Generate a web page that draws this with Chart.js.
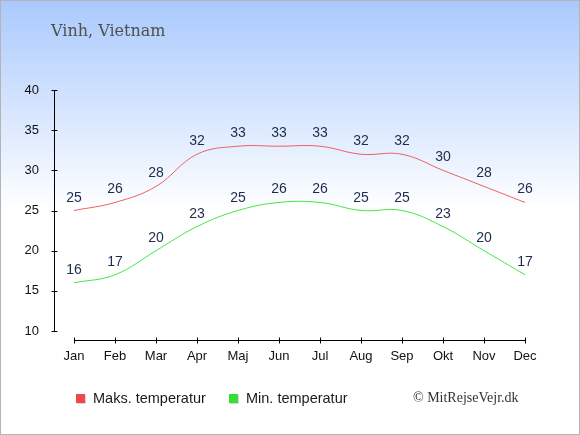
<!DOCTYPE html>
<html>
<head>
<meta charset="utf-8">
<script src="https://cdn.jsdelivr.net/npm/chart.js@4/dist/chart.umd.min.js"></script>
<style>
html,body{margin:0;padding:0;background:#fff;}
#wrap{position:relative;width:580px;height:435px;}
canvas{display:block;}
</style>
</head>
<body>
<div id="wrap"><canvas id="c" width="580" height="435"></canvas></div>
<script>
const months = ['Jan','Feb','Mar','Apr','Maj','Jun','Jul','Aug','Sep','Okt','Nov','Dec'];
const maxTemp = [25,26,28,32,33,33,33,32,32,30,28,26];
const minTemp = [16,17,20,23,25,26,26,25,25,23,20,17];
const yTicks = [10,15,20,25,30,35,40];
const titleText = 'Vinh, Vietnam';
const creditText = '\u00A9 MitRejseVejr.dk';
const seriesNames = ['Maks. temperatur','Min. temperatur'];
const lineColors = ['#f06060','#44e844'];
const boxColors = ['#f04848','#33e033'];

const decor = {
  id:'decor',
  beforeDraw(chart){
    const ctx = chart.ctx;
    ctx.save();
    const g = ctx.createLinearGradient(0,0,0,210);
    g.addColorStop(0,'#a9c9fd');
    g.addColorStop(1,'#ffffff');
    ctx.fillStyle = '#ffffff';
    ctx.fillRect(0,0,580,435);
    ctx.fillStyle = g;
    ctx.fillRect(0,0,580,210);
    ctx.strokeStyle = '#b4b4b4';
    ctx.lineWidth = 1;
    ctx.strokeRect(0.5,0.5,579,434);
    ctx.restore();
  },
  afterDraw(chart){
    const ctx = chart.ctx;
    const xs = chart.scales.x, ys = chart.scales.y;
    ctx.save();
    ctx.strokeStyle = '#000';
    ctx.lineWidth = 1;
    const ax = 54.5;
    ctx.beginPath();
    ctx.moveTo(ax, Math.round(ys.getPixelForValue(40))+0.5);
    ctx.lineTo(ax, Math.round(ys.getPixelForValue(10))+0.5);
    yTicks.forEach(v=>{
      const py = Math.round(ys.getPixelForValue(v))+0.5;
      ctx.moveTo(ax-3, py); ctx.lineTo(ax+3, py);
    });
    const ay = 340.5;
    ctx.moveTo(Math.round(xs.getPixelForValue(0))+0.5, ay);
    ctx.lineTo(Math.round(xs.getPixelForValue(months.length-1))+0.5, ay);
    months.forEach((m,i)=>{
      const px = Math.round(xs.getPixelForValue(i))+0.5;
      ctx.moveTo(px, ay-3); ctx.lineTo(px, ay+3);
    });
    ctx.stroke();
    ctx.fillStyle = '#1d2c4c';
    ctx.font = '14px "Liberation Sans", Arial, sans-serif';
    ctx.textAlign = 'center';
    ctx.textBaseline = 'alphabetic';
    chart.data.datasets.forEach((ds,di)=>{
      const meta = chart.getDatasetMeta(di);
      meta.data.forEach((pt,i)=>{
        ctx.fillText(String(ds.data[i]), pt.x, pt.y - 9);
      });
    });
    ctx.fillStyle = '#505050';
    ctx.font = '16px "DejaVu Serif", serif';
    ctx.textAlign = 'left';
    ctx.textBaseline = 'middle';
    ctx.fillText(titleText, 51, 32);
    ctx.font = '14.5px "Liberation Sans", Arial, sans-serif';
    const legX = [76, 229];
    chart.data.datasets.forEach((ds,di)=>{
      const x = legX[di];
      ctx.fillStyle = 'rgba(0,0,0,0.15)';
      ctx.fillRect(x+1, 395, 9, 9);
      ctx.fillStyle = boxColors[di];
      ctx.fillRect(x, 394, 9, 9);
      ctx.fillStyle = '#1a1a1a';
      ctx.fillText(ds.label, x+17, 399);
    });
    ctx.fillStyle = '#333';
    ctx.font = '14px "Liberation Serif", serif';
    ctx.fillText(creditText, 413, 398);
    ctx.restore();
  }
};

new Chart(document.getElementById('c'), {
  type:'line',
  data:{
    labels: months,
    datasets:[
      {label:seriesNames[0], data:maxTemp, borderColor:lineColors[0], borderWidth:1, pointRadius:0, tension:0.4, fill:false},
      {label:seriesNames[1], data:minTemp, borderColor:lineColors[1], borderWidth:1, pointRadius:0, tension:0.4, fill:false}
    ]
  },
  options:{
    responsive:false,
    animation:false,
    devicePixelRatio:1,
    layout:{padding:{left:0,right:55,top:90,bottom:0}},
    plugins:{legend:{display:false}, tooltip:{enabled:false}, title:{display:false}},
    scales:{
      x:{
        offset:false,
        grid:{display:false},
        border:{display:false},
        ticks:{color:'#111', font:{family:'"Liberation Sans", Arial, sans-serif', size:13}, padding:10, maxRotation:0, autoSkip:false},
        afterFit(s){ s.height = 104; }
      },
      y:{
        min:10, max:40,
        afterBuildTicks(s){ s.ticks = yTicks.map(v=>({value:v})); },
        grid:{display:false},
        border:{display:false},
        ticks:{color:'#111', font:{family:'"Liberation Sans", Arial, sans-serif', size:13}, padding:27},
        afterFit(s){ s.width = 74; }
      }
    }
  },
  plugins:[decor]
});
</script>
</body>
</html>
